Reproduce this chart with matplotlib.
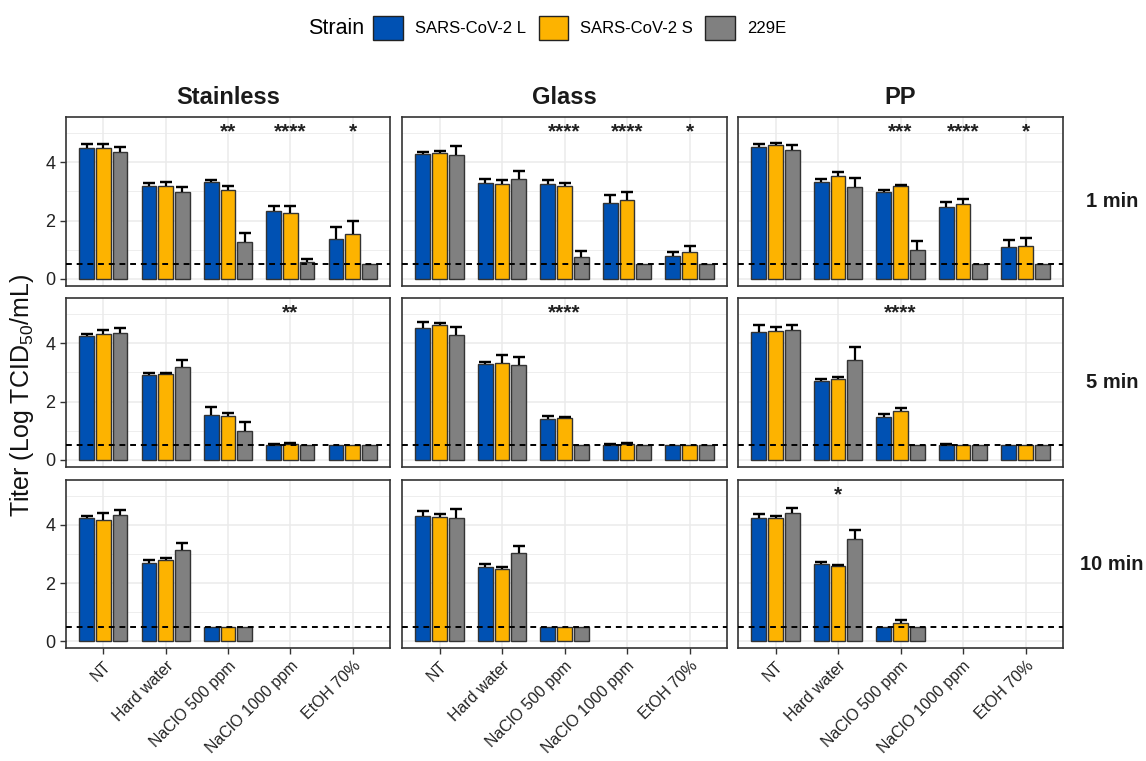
import numpy as np
import matplotlib
matplotlib.use("Agg")
import matplotlib.pyplot as plt
from matplotlib.patches import Patch

plt.rcParams["font.family"] = ["Liberation Sans", "DejaVu Sans"]
plt.rcParams["mathtext.fontset"] = "custom"
plt.rcParams["mathtext.rm"] = "Liberation Sans"

treatments = ["NT", "Hard water", "NaClO 500 ppm", "NaClO 1000 ppm", "EtOH 70%"]
surfaces = ["Stainless", "Glass", "PP"]
times = ["1 min", "5 min", "10 min"]
strains = ["SARS-CoV-2 L", "SARS-CoV-2 S", "229E"]
nan = np.nan

# mean titer, [time][surface][treatment]
mean_L = [
    [[4.49, 3.17, 3.31, 2.32, 1.38], [4.29, 3.30, 3.26, 2.61, 0.78], [4.52, 3.32, 2.99, 2.47, 1.08]],
    [[4.26, 2.90, 1.55, 0.53, 0.50], [4.52, 3.30, 1.41, 0.53, 0.50], [4.40, 2.71, 1.48, 0.53, 0.50]],
    [[4.25, 2.69, 0.50, nan, nan], [4.31, 2.55, 0.50, nan, nan], [4.25, 2.65, 0.50, nan, nan]],
]
sd_L = [
    [[0.13, 0.12, 0.07, 0.19, 0.40], [0.07, 0.14, 0.14, 0.26, 0.14], [0.10, 0.10, 0.07, 0.18, 0.27]],
    [[0.05, 0.07, 0.25, 0.03, 0.0], [0.22, 0.07, 0.11, 0.03, 0.0], [0.22, 0.06, 0.11, 0.02, 0.0]],
    [[0.06, 0.10, 0.0, nan, nan], [0.16, 0.12, 0.0, nan, nan], [0.13, 0.09, 0.0, nan, nan]],
]
mean_S = [
    [[4.50, 3.17, 3.06, 2.27, 1.53], [4.30, 3.25, 3.17, 2.72, 0.94], [4.58, 3.52, 3.18, 2.56, 1.12]],
    [[4.30, 2.94, 1.51, 0.56, 0.50], [4.63, 3.34, 1.43, 0.55, 0.50], [4.43, 2.76, 1.69, 0.50, 0.50]],
    [[4.16, 2.79, 0.50, nan, nan], [4.27, 2.49, 0.50, nan, nan], [4.25, 2.57, 0.61, nan, nan]],
]
sd_S = [
    [[0.13, 0.16, 0.14, 0.24, 0.47], [0.07, 0.13, 0.11, 0.25, 0.19], [0.09, 0.14, 0.04, 0.18, 0.28]],
    [[0.15, 0.04, 0.11, 0.03, 0.0], [0.08, 0.27, 0.05, 0.04, 0.0], [0.11, 0.10, 0.09, 0.0, 0.0]],
    [[0.26, 0.06, 0.0, nan, nan], [0.11, 0.07, 0.0, nan, nan], [0.06, 0.04, 0.11, nan, nan]],
]
mean_E = [
    [[4.34, 2.97, 1.26, 0.58, 0.50], [4.25, 3.42, 0.74, 0.50, 0.50], [4.41, 3.14, 1.00, 0.50, 0.50]],
    [[4.34, 3.18, 1.00, 0.50, 0.50], [4.28, 3.26, 0.50, 0.50, 0.50], [4.45, 3.43, 0.50, 0.50, 0.50]],
    [[4.33, 3.15, 0.50, nan, nan], [4.25, 3.02, 0.50, nan, nan], [4.42, 3.51, 0.50, nan, nan]],
]
sd_E = [
    [[0.17, 0.17, 0.33, 0.12, 0.0], [0.30, 0.27, 0.23, 0.0, 0.0], [0.19, 0.31, 0.30, 0.0, 0.0]],
    [[0.18, 0.25, 0.30, 0.0, 0.0], [0.29, 0.26, 0.0, 0.0, 0.0], [0.17, 0.44, 0.0, 0.0, 0.0]],
    [[0.17, 0.24, 0.0, nan, nan], [0.29, 0.24, 0.0, nan, nan], [0.17, 0.30, 0.0, nan, nan]],
]
# significance marks: (time, surface, treatment index, label)
signif = [
    (0, 0, 2, "**"), (0, 0, 3, "****"), (0, 0, 4, "*"),
    (0, 1, 2, "****"), (0, 1, 3, "****"), (0, 1, 4, "*"),
    (0, 2, 2, "***"), (0, 2, 3, "****"), (0, 2, 4, "*"),
    (1, 0, 3, "**"), (1, 1, 2, "****"), (1, 2, 2, "****"),
    (2, 2, 1, "*"),
]
detection_limit = 0.5

colors = ["#0051B3", "#FDB300", "#808080"]
means = [mean_L, mean_S, mean_E]
sds = [sd_L, sd_S, sd_E]

W, H = 1146, 761
fig = plt.figure(figsize=(W / 100, H / 100), dpi=100)

col_px = [(66, 390), (402, 727), (738, 1063)]
row_px = [(117, 286), (298, 467), (480, 648)]
grid_col = "#EBEBEB"
dodge = 0.267
bar_w = 0.235

for r in range(3):
    for c in range(3):
        x0, x1 = col_px[c]
        y0, y1 = row_px[r]
        ax = fig.add_axes([x0 / W, 1 - y1 / H, (x1 - x0) / W, (y1 - y0) / H])
        x = np.arange(1, len(treatments) + 1)
        for k in range(3):
            m = np.array(means[k][r][c], dtype=float)
            s = np.array(sds[k][r][c], dtype=float)
            xs = x + (k - 1) * dodge
            ok = ~np.isnan(m)
            ax.bar(xs[ok], m[ok], width=bar_w, color=colors[k],
                   edgecolor="#333333", linewidth=1.0, zorder=3)
            has = ok & (s > 0.005)
            ax.errorbar(xs[has], m[has] + s[has] / 2, yerr=s[has] / 2, fmt="none",
                        ecolor="black", elinewidth=1.6, capsize=0, zorder=4)
            ax.errorbar(xs[has], m[has] + s[has], yerr=0, fmt="none",
                        ecolor="black", elinewidth=0, capsize=4, capthick=1.6, zorder=4)
        ax.axhline(detection_limit, color="black", linestyle=(0, (3, 2.5)),
                   linewidth=1.4, zorder=5)
        for (tr, sr, ti, lab) in signif:
            if tr == r and sr == c:
                ax.text(x[ti], 4.86, lab, ha="center", va="baseline",
                        fontsize=15, fontweight="bold", color="#222222", zorder=6)
        ax.set_xlim(0.4, 5.6)
        ax.set_ylim(-0.24, 5.55)
        ax.set_yticks([0, 2, 4])
        ax.set_yticks([1, 3, 5], minor=True)
        ax.set_xticks(x)
        ax.grid(True, which="major", color=grid_col, linewidth=1.1, zorder=0)
        ax.grid(True, which="minor", axis="y", color=grid_col, linewidth=0.6, zorder=0)
        ax.set_axisbelow(True)
        for sp in ax.spines.values():
            sp.set_color("#333333")
            sp.set_linewidth(1.2)
        ax.tick_params(which="minor", length=0)
        ax.tick_params(which="major", length=4, color="#333333", width=1.0,
                       labelsize=13, labelcolor="#222222")
        if c == 0:
            ax.set_yticklabels(["0", "2", "4"])
        else:
            ax.tick_params(axis="y", length=0, labelleft=False)
        if r == 2:
            ax.set_xticklabels(treatments, rotation=45, ha="right",
                               rotation_mode="anchor", fontsize=11.5)
        else:
            ax.tick_params(axis="x", length=0, labelbottom=False)
        if r == 0:
            ax.text(0.5, 1 + 19 / (y1 - y0), surfaces[c], transform=ax.transAxes,
                    ha="center", va="center", fontsize=17, fontweight="bold",
                    color="#1A1A1A")
        if c == 2:
            ax.text(1 + 49 / (x1 - x0), 0.5, times[r], transform=ax.transAxes,
                    ha="center", va="center", fontsize=14.5, fontweight="bold",
                    color="#1A1A1A")

fig.text(22 / W, 1 - 395 / H, r"Titer (Log TCID$_{50}$/mL)", rotation=90,
         ha="center", va="center", fontsize=18, color="#111111")

handles = [Patch(facecolor=colors[k], edgecolor="#222222", linewidth=1.0, label=strains[k])
           for k in range(3)]
fig.text(336 / W, 1 - 28 / H, "Strain", ha="center", va="center", fontsize=15.5)
fig.legend(handles=handles, loc="center left", bbox_to_anchor=(365 / W, 1 - 28 / H),
           ncol=3, frameon=False, fontsize=12, handlelength=1.75, handleheight=1.75,
           handletextpad=0.75, columnspacing=0.75, borderpad=0)

fig.savefig("out.png", dpi=100)
